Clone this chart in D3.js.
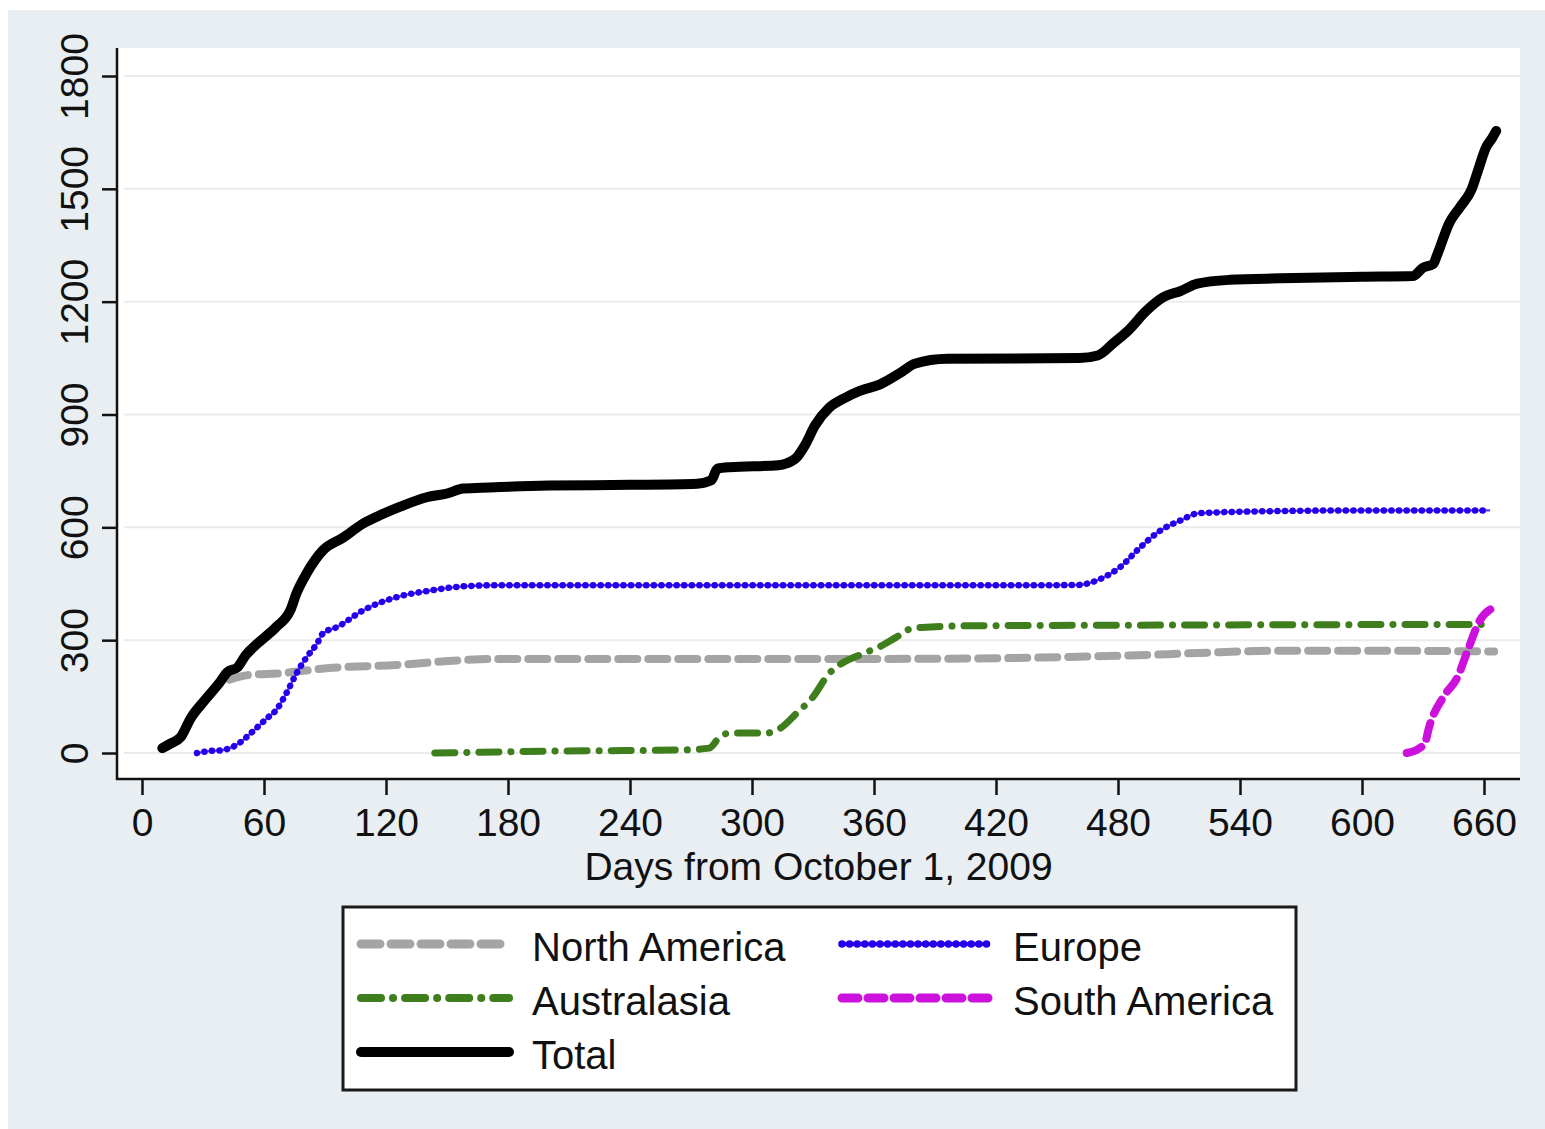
<!DOCTYPE html>
<html>
<head>
<meta charset="utf-8">
<script src="https://cdn.jsdelivr.net/npm/d3@7"></script>
<style>
  html, body { margin: 0; padding: 0; background: #ffffff; }
  svg { display: block; }
  text { font-family: "Liberation Sans", Arial, sans-serif; fill: #111; }
</style>
</head>
<body>
<svg id="chart" width="1545" height="1129"></svg>
<script>
// Cumulative counts by region, days from October 1, 2009
const totalDays = [10, 14, 19, 24, 31, 38, 42, 47, 51, 57, 66, 73, 76, 81, 89, 99, 109, 117, 127, 140,
  150, 158, 171, 200, 240, 273, 280, 283, 289, 313, 317, 322, 326, 331, 338, 346, 353, 363, 373, 380,
  396, 430, 461, 470, 478, 485, 494, 502, 511, 519, 535, 560, 600, 625, 630, 635, 637, 643, 648, 654, 657, 661, 664, 666];
const totalVals = [13, 25, 42, 93, 141, 186, 215, 228, 260, 292, 335, 380, 425, 478, 539, 573, 611, 632, 655, 680,
  690, 703, 706, 711, 713, 716, 725, 756, 760, 765, 770, 786, 818, 871, 918, 945, 963, 980, 1011, 1035,
  1048, 1049, 1050, 1057, 1091, 1123, 1176, 1211, 1229, 1248, 1258, 1262, 1266, 1268, 1290, 1300, 1325, 1410, 1450, 1500, 1548, 1610, 1635, 1654];

const europeDays = [27, 33, 40, 48, 53, 57, 62, 66, 71, 76, 81, 86, 89, 96, 109, 125, 142, 158, 175, 250,
  350, 440, 461, 466, 471, 481, 491, 501, 511, 519, 530, 545, 600, 663];
const europeVals = [0, 5, 8, 27, 50, 70, 95, 114, 159, 212, 255, 290, 318, 335, 380, 414, 432, 443, 446, 446,
  446, 446, 447, 452, 462, 494, 547, 592, 619, 637, 640, 642, 645, 645];

const northAmericaDays = [43, 52, 68, 92, 125, 158, 175, 250, 350, 420, 460, 490, 520, 560, 600, 665];
const northAmericaVals = [195, 207, 212, 226, 234, 247, 250, 250, 250, 252, 256, 260, 266, 272, 272, 270];

const australasiaDays = [144, 166, 200, 265, 279, 284, 289, 307, 314, 322, 330, 338, 343, 355, 363, 371, 379, 388, 404, 500, 663];
const australasiaVals = [0, 2, 5, 8, 13, 42, 53, 53, 66, 106, 149, 212, 234, 265, 283, 308, 332, 335, 338, 340, 342];

const southAmericaDays = [622, 628, 631, 633, 640, 647, 652, 658, 664];
const southAmericaVals = [0, 12, 27, 69, 149, 202, 273, 353, 385];

const xTicks = [0, 60, 120, 180, 240, 300, 360, 420, 480, 540, 600, 660];
const yTicks = [0, 300, 600, 900, 1200, 1500, 1800];
const xTitle = "Days from October 1, 2009";

// Series styling
const series = [
  { name: "North America", days: northAmericaDays, vals: northAmericaVals, color: "#a4a4a4", width: 8, dash: "19 11" },
  { name: "Europe", days: europeDays, vals: europeVals, color: "#2400ea", width: 6.5, dash: "0.1 7.5", under: 2.4 },
  { name: "Australasia", days: australasiaDays, vals: australasiaVals, color: "#3e7e1c", width: 7, dash: "20 12 0.1 12" },
  { name: "South America", days: southAmericaDays, vals: southAmericaVals, color: "#cc11dd", width: 8, dash: "16 10" },
  { name: "Total", days: totalDays, vals: totalVals, color: "#000000", width: 10, dash: null }
];

const FONT = "39px";
const svg = d3.select("#chart");

// Graph background and plot region
svg.append("rect").attr("x", 8).attr("y", 10).attr("width", 1537).attr("height", 1119).attr("fill", "#e8eef1");
const plot = { left: 117, right: 1520, top: 48, bottom: 779 };
svg.append("rect").attr("x", plot.left).attr("y", plot.top)
  .attr("width", plot.right - plot.left).attr("height", plot.bottom - plot.top).attr("fill", "#ffffff");

const x = d3.scaleLinear().domain([0, 660]).range([142, 1484]);
const y = d3.scaleLinear().domain([0, 1800]).range([753, 76]);

// Horizontal grid lines
svg.append("g").selectAll("line").data(yTicks).join("line")
  .attr("x1", plot.left + 7).attr("x2", plot.right)
  .attr("y1", d => y(d)).attr("y2", d => y(d))
  .attr("stroke", "#ebebeb").attr("stroke-width", 2);

// Y axis with rotated labels
const yAxis = svg.append("g").attr("transform", `translate(${plot.left},0)`)
  .call(d3.axisLeft(y).tickValues(yTicks).tickSize(15).tickFormat(d3.format("d")));
yAxis.select(".domain").remove();
yAxis.selectAll(".tick line").attr("stroke", "#111").attr("stroke-width", 2.5);
yAxis.selectAll(".tick text")
  .attr("transform", "rotate(-90)")
  .attr("x", 0).attr("y", -29).attr("dy", 0)
  .attr("text-anchor", "middle")
  .style("font-size", FONT).style("fill", "#111");

// X axis
const xAxis = svg.append("g").attr("transform", `translate(0,${plot.bottom})`)
  .call(d3.axisBottom(x).tickValues(xTicks).tickSize(16).tickFormat(d3.format("d")));
xAxis.select(".domain").remove();
xAxis.selectAll(".tick line").attr("stroke", "#111").attr("stroke-width", 2.5);
xAxis.selectAll(".tick text")
  .attr("y", 57).attr("dy", 0)
  .style("font-size", FONT).style("fill", "#111");

// Axis lines
svg.append("line").attr("x1", plot.left).attr("x2", plot.left).attr("y1", plot.top).attr("y2", plot.bottom + 1)
  .attr("stroke", "#111").attr("stroke-width", 2.5);
svg.append("line").attr("x1", plot.left - 1).attr("x2", plot.right).attr("y1", plot.bottom).attr("y2", plot.bottom)
  .attr("stroke", "#111").attr("stroke-width", 2.5);

// X axis title
svg.append("text").attr("x", (plot.left + plot.right) / 2).attr("y", 880)
  .attr("text-anchor", "middle").style("font-size", FONT).text(xTitle);

// Lines
const line = d3.line().x(d => x(d[0])).y(d => y(d[1])).curve(d3.curveMonotoneX);
const lineG = svg.append("g");
series.forEach(s => {
  const pts = s.days.map((d, i) => [d, s.vals[i]]);
  if (s.under) {
    lineG.append("path").attr("d", line(pts)).attr("fill", "none")
      .attr("stroke", s.color).attr("stroke-width", s.under).attr("stroke-opacity", 0.75);
  }
  lineG.append("path").attr("d", line(pts)).attr("fill", "none")
    .attr("stroke", s.color).attr("stroke-width", s.width)
    .attr("stroke-linecap", "round").attr("stroke-linejoin", "round")
    .attr("stroke-dasharray", s.dash);
});

// Legend
const legend = svg.append("g");
legend.append("rect").attr("x", 343).attr("y", 907).attr("width", 953).attr("height", 183)
  .attr("fill", "#ffffff").attr("stroke", "#1a1a1a").attr("stroke-width", 3);
const legendOrder = ["North America", "Europe", "Australasia", "South America", "Total"];
const colX = [361, 842];
const rowY = [944, 998, 1052];
legendOrder.forEach((name, i) => {
  const s = series.find(t => t.name === name);
  const cx = colX[i % 2], cy = rowY[Math.floor(i / 2)];
  if (s.under) {
    legend.append("line").attr("x1", cx).attr("x2", cx + 148).attr("y1", cy).attr("y2", cy)
      .attr("stroke", s.color).attr("stroke-width", s.under + 1);
  }
  legend.append("line").attr("x1", cx).attr("x2", cx + 148).attr("y1", cy).attr("y2", cy)
    .attr("stroke", s.color).attr("stroke-width", s.name === "Total" ? 10 : s.width + 1)
    .attr("stroke-linecap", "round").attr("stroke-dasharray", s.dash);
  legend.append("text").attr("x", cx + 171).attr("y", cy + 17)
    .style("font-size", "40px").text(name);
});
</script>
</body>
</html>
